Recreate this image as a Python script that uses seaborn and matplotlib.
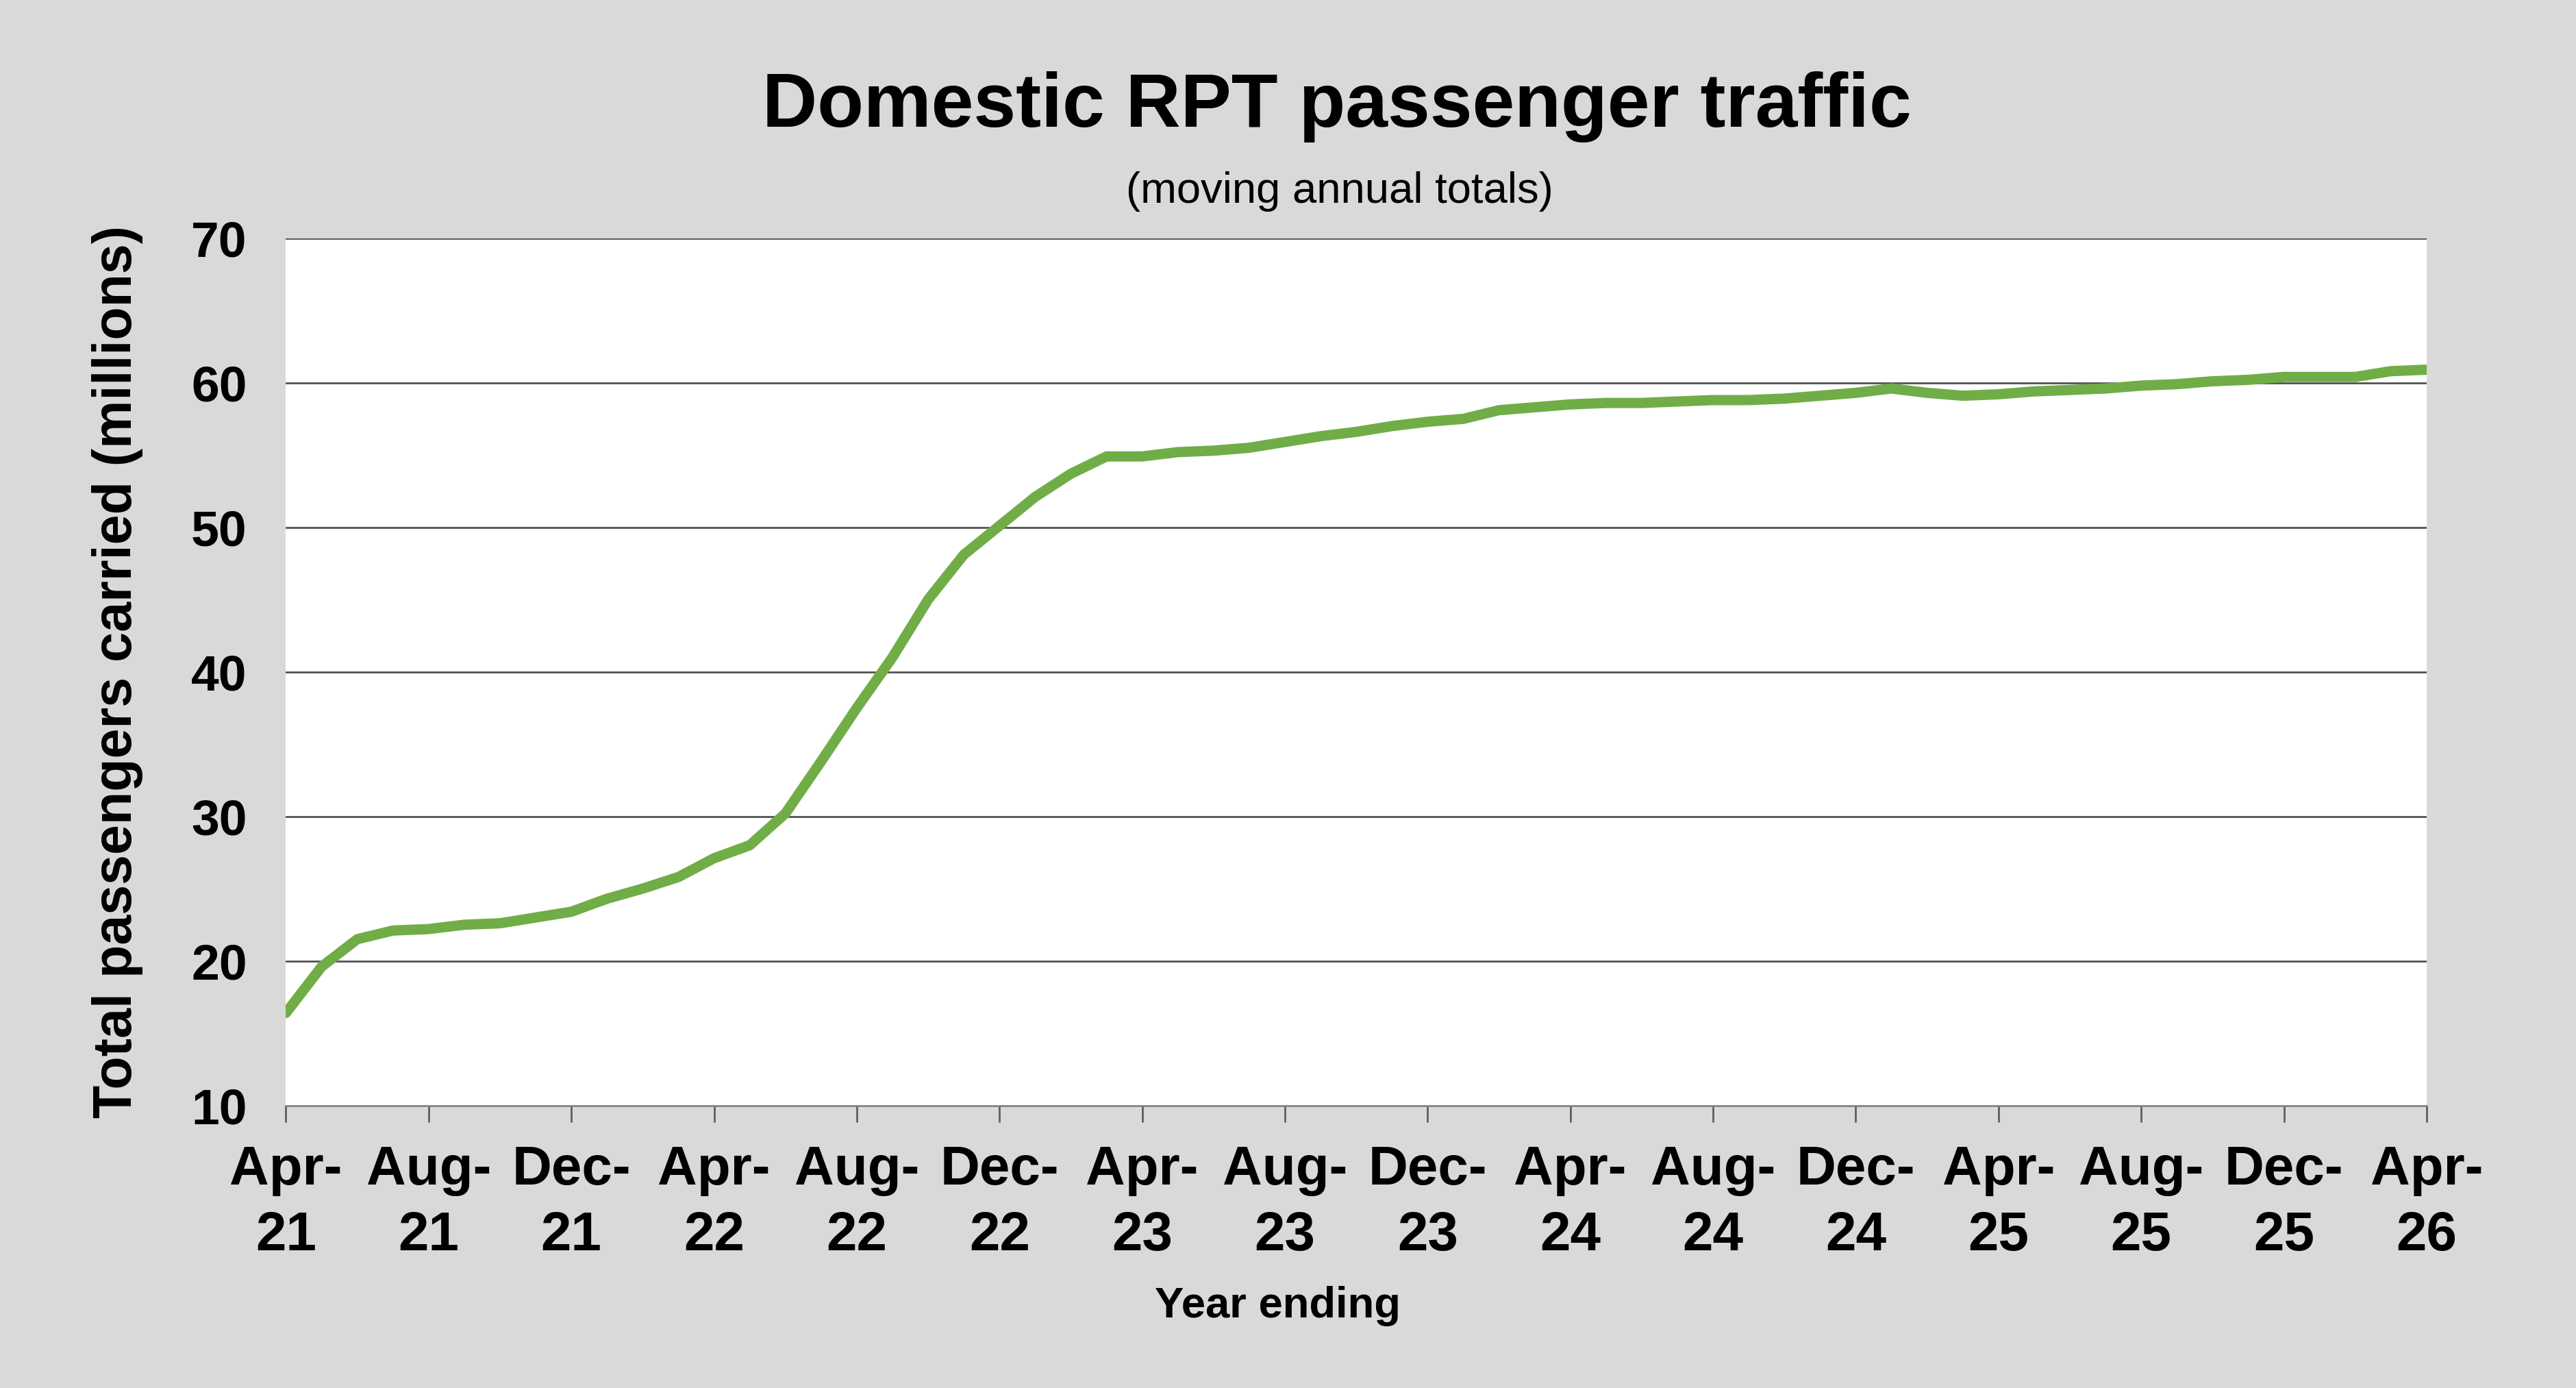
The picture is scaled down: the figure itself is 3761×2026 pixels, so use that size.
import pandas as pd
import seaborn as sns
import matplotlib.pyplot as plt

# monthly moving annual totals, Apr-21 .. Apr-26 (millions)
passengers = [
    16.4, 19.6, 21.5, 22.1, 22.2, 22.5, 22.6, 23.0, 23.4, 24.3, 25.0, 25.8,
    27.1, 28.0, 30.2, 33.8, 37.5, 41.0, 45.0, 48.1, 50.1, 52.1, 53.7, 54.9,
    54.9, 55.2, 55.3, 55.5, 55.9, 56.3, 56.6, 57.0, 57.3, 57.5, 58.1, 58.3,
    58.5, 58.6, 58.6, 58.7, 58.8, 58.8, 58.9, 59.1, 59.3, 59.6, 59.3, 59.1,
    59.2, 59.4, 59.5, 59.6, 59.8, 59.9, 60.1, 60.2, 60.4, 60.4, 60.4, 60.8,
    60.9,
]
tick_labels = ["Apr-\n21", "Aug-\n21", "Dec-\n21", "Apr-\n22", "Aug-\n22", "Dec-\n22",
               "Apr-\n23", "Aug-\n23", "Dec-\n23", "Apr-\n24", "Aug-\n24", "Dec-\n24",
               "Apr-\n25", "Aug-\n25", "Dec-\n25", "Apr-\n26"]
y_ticks = [10, 20, 30, 40, 50, 60, 70]

df = pd.DataFrame({"month": range(len(passengers)), "passengers": passengers})

sns.set_theme(style="white")
plt.rcParams["font.family"] = ["Liberation Sans", "DejaVu Sans"]
plt.rcParams["text.color"] = "black"
plt.rcParams["xtick.color"] = "#595959"
plt.rcParams["xtick.labelcolor"] = "black"
plt.rcParams["ytick.labelcolor"] = "black"

fig = plt.figure(figsize=(3761 / 240, 2026 / 240), dpi=240, facecolor="#D9D9D9")
ax = fig.add_axes([0.111, 0.2036, 0.831, 0.6248])
ax.set_facecolor("white")

sns.lineplot(data=df, x="month", y="passengers", ax=ax, color="#70AD47",
             linewidth=4.5, zorder=3)

ax.set_xlim(0, len(passengers) - 1)
ax.set_ylim(10, 70)
ax.set_yticks(y_ticks)
ax.set_yticklabels([str(v) for v in y_ticks], fontsize=22, fontweight="bold")
ax.set_xticks(range(0, len(passengers), 4))
ax.set_xticklabels(tick_labels, fontsize=24, fontweight="bold", linespacing=1.37)

for v in y_ticks[1:]:
    ax.axhline(v, color="#4D4D4D", linewidth=0.8, zorder=2)

for side in ["left", "right", "top"]:
    ax.spines[side].set_visible(False)
ax.spines["bottom"].set_color("#808080")
ax.spines["bottom"].set_linewidth(0.8)

ax.tick_params(axis="x", direction="out", length=7.2, width=0.8, pad=10, bottom=True)
ax.tick_params(axis="y", length=0, pad=17)

ax.set_xlabel("")
ax.set_ylabel("Total passengers carried (millions)", fontsize=23.7, fontweight="bold",
              labelpad=21, color="black")
fig.text(0.496, 0.059, "Year ending", ha="center", va="center",
         fontsize=19, fontweight="bold")

fig.text(0.519, 0.923, "Domestic RPT passenger traffic", ha="center", va="center",
         fontsize=33.3, fontweight="bold")
fig.text(0.52, 0.862, "(moving annual totals)", ha="center", va="center", fontsize=19)

fig.savefig("out.png", dpi=240, facecolor=fig.get_facecolor())
plt.close()
